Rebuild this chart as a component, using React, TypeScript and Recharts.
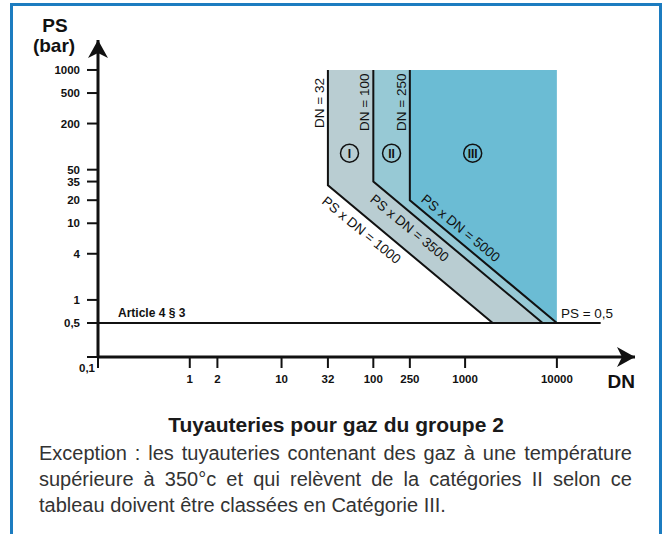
import { ComposedChart, Area, Line, XAxis, YAxis, ReferenceDot } from 'recharts';

// axis limits (log scales)
const DN_MIN = 0.1;
const DN_MAX = 71000;
const PS_MIN = 0.18;
const PS_MAX = 2460;

const dnTicks = [0.1, 1, 2, 10, 32, 100, 250, 1000, 10000];
const psTicks = [PS_MIN, 0.5, 1, 4, 10, 20, 35, 50, 200, 500, 1000];

// category zones: [low PS, high PS] for each DN
const zoneI = [
  { dn: 32, range: [31.25, 1000] },
  { dn: 100, range: [10, 1000] },
  { dn: 100, range: [10, 35] },
  { dn: 2000, range: [0.5, 1.75] },
  { dn: 7000, range: [0.5, 0.5] },
];
const zoneII = [
  { dn: 100, range: [35, 1000] },
  { dn: 250, range: [14, 1000] },
  { dn: 250, range: [14, 20] },
  { dn: 7000, range: [0.5, 0.714] },
  { dn: 10000, range: [0.5, 0.5] },
];
const zoneIII = [
  { dn: 250, range: [20, 1000] },
  { dn: 10000, range: [0.5, 1000] },
];

// boundary lines
const limit1000 = [
  { dn: 32, ps: 1000 },
  { dn: 32, ps: 31.25 },
  { dn: 2000, ps: 0.5 },
];
const limit3500 = [
  { dn: 100, ps: 1000 },
  { dn: 100, ps: 35 },
  { dn: 7000, ps: 0.5 },
];
const limit5000 = [
  { dn: 250, ps: 1000 },
  { dn: 250, ps: 20 },
  { dn: 10000, ps: 0.5 },
];
const article = [
  { dn: 0.1, ps: 0.5 },
  { dn: 30000, ps: 0.5 },
];

const FONT = "'Liberation Sans', Arial, sans-serif";
const INK = '#111';

const fr = (v: number) => String(v).replace('.', ',');

function PsTick({ x, y, payload }: any) {
  if (payload.value === PS_MIN) return null;
  return (
    <text x={x} y={y + 4} textAnchor="end" fontSize={11.5} fontWeight="bold" fontFamily={FONT} fill={INK}>
      {fr(payload.value)}
    </text>
  );
}

function DnTick({ x, y, payload }: any) {
  if (payload.value === DN_MIN) {
    return (
      <text x={x - 3} y={y - 2} textAnchor="end" fontSize={11.5} fontWeight="bold" fontFamily={FONT} fill={INK}>
        0,1
      </text>
    );
  }
  return (
    <text x={x} y={y + 9} textAnchor="middle" fontSize={11.5} fontWeight="bold" fontFamily={FONT} fill={INK}>
      {fr(payload.value)}
    </text>
  );
}

const vLabel = (text: string) => (p: any) => (
  <text x={p.cx - 4} y={p.cy} transform={`rotate(-90 ${p.cx - 4} ${p.cy})`} fontSize={13.5} fontFamily={FONT} fill={INK}>
    {text}
  </text>
);

const dLabel = (text: string) => (p: any) => (
  <text
    x={p.cx}
    y={p.cy}
    transform={`rotate(39.5 ${p.cx} ${p.cy})`}
    textAnchor="middle"
    dominantBaseline="central"
    fontSize={13.5}
    fontFamily={FONT}
    fill={INK}
  >
    {text}
  </text>
);

const roman = (text: string) => (p: any) => (
  <g>
    <circle cx={p.cx} cy={p.cy} r={9} fill="none" stroke={INK} strokeWidth={1.5} />
    <text x={p.cx} y={p.cy + 4.3} textAnchor="middle" fontSize={12} fontWeight="bold" fontFamily={FONT} fill={INK}>
      {text}
    </text>
  </g>
);

export default function App() {
  return (
    <div style={{ position: 'fixed', left: 0, top: 0, width: 669, height: 534, overflow: 'hidden', background: '#fff' }}>
      <div
        style={{
          position: 'absolute',
          left: 10,
          top: 3,
          width: 646,
          height: 600,
          border: '3px solid #1c7cc0',
        }}
      />
      <div style={{ position: 'absolute', left: 0, top: 0 }}>
        <ComposedChart width={669} height={400} margin={{ top: 40, right: 34, left: 0, bottom: 0 }}>
          <XAxis
            dataKey="dn"
            type="number"
            scale="log"
            domain={[DN_MIN, DN_MAX]}
            allowDataOverflow
            ticks={dnTicks}
            interval={0}
            height={43}
            tickSize={11}
            tickMargin={6}
            axisLine={{ stroke: INK, strokeWidth: 3 }}
            tickLine={{ stroke: INK, strokeWidth: 2 }}
            tick={<DnTick />}
          />
          <YAxis
            dataKey="ps"
            type="number"
            scale="log"
            domain={[PS_MIN, PS_MAX]}
            allowDataOverflow
            ticks={psTicks}
            interval={0}
            width={98}
            tickSize={11}
            tickMargin={7}
            axisLine={{ stroke: INK, strokeWidth: 3 }}
            tickLine={{ stroke: INK, strokeWidth: 2 }}
            tick={<PsTick />}
          />
          <Area data={zoneI} dataKey="range" type="linear" fill="#b9cdd2" fillOpacity={1} stroke="none" isAnimationActive={false} />
          <Area data={zoneII} dataKey="range" type="linear" fill="#97c9d5" fillOpacity={1} stroke="none" isAnimationActive={false} />
          <Area data={zoneIII} dataKey="range" type="linear" fill="#6bbcd4" fillOpacity={1} stroke="none" isAnimationActive={false} />
          <Line data={limit1000} dataKey="ps" type="linear" stroke={INK} strokeWidth={2} dot={false} activeDot={false} isAnimationActive={false} />
          <Line data={limit3500} dataKey="ps" type="linear" stroke={INK} strokeWidth={2} dot={false} activeDot={false} isAnimationActive={false} />
          <Line data={limit5000} dataKey="ps" type="linear" stroke={INK} strokeWidth={2} dot={false} activeDot={false} isAnimationActive={false} />
          <Line data={article} dataKey="ps" type="linear" stroke={INK} strokeWidth={2.2} dot={false} activeDot={false} isAnimationActive={false} />

          <ReferenceDot x={32} y={175} r={0} ifOverflow="visible" shape={vLabel('DN = 32')} />
          <ReferenceDot x={100} y={160} r={0} ifOverflow="visible" shape={vLabel('DN = 100')} />
          <ReferenceDot x={250} y={160} r={0} ifOverflow="visible" shape={vLabel('DN = 250')} />

          <ReferenceDot x={55} y={82} r={0} ifOverflow="visible" shape={roman('I')} />
          <ReferenceDot x={158} y={82} r={0} ifOverflow="visible" shape={roman('II')} />
          <ReferenceDot x={1210} y={82} r={0} ifOverflow="visible" shape={roman('III')} />

          <ReferenceDot x={74} y={8.1} r={0} ifOverflow="visible" shape={dLabel('PS x DN = 1000')} />
          <ReferenceDot x={248} y={8.6} r={0} ifOverflow="visible" shape={dLabel('PS x DN = 3500')} />
          <ReferenceDot x={896} y={8.6} r={0} ifOverflow="visible" shape={dLabel('PS x DN = 5000')} />

          <ReferenceDot
            x={0.1}
            y={0.5}
            r={0}
            ifOverflow="visible"
            shape={(p: any) => (
              <text x={p.cx + 20} y={p.cy - 5.5} fontSize={12} fontWeight="bold" fontFamily={FONT} fill={INK}>
                Article 4 § 3
              </text>
            )}
          />
          <ReferenceDot
            x={10000}
            y={0.5}
            r={0}
            ifOverflow="visible"
            shape={(p: any) => (
              <text x={p.cx + 4} y={p.cy - 5} fontSize={13.5} fontFamily={FONT} fill={INK}>
                PS = 0,5
              </text>
            )}
          />

          {/* arrow heads + axis titles */}
          <ReferenceDot
            x={DN_MIN}
            y={PS_MAX}
            r={0}
            ifOverflow="visible"
            shape={(p: any) => (
              <g>
                <path d={`M${p.cx},${p.cy} L${p.cx + 10},${p.cy + 18} L${p.cx},${p.cy + 13} L${p.cx - 10},${p.cy + 18} Z`} fill={INK} />
                <text x={p.cx - 43} y={p.cy - 8} textAnchor="middle" fontSize={19} fontWeight="bold" fontFamily={FONT} fill={INK}>
                  PS
                </text>
                <text x={p.cx - 44} y={p.cy + 12} textAnchor="middle" fontSize={19} fontWeight="bold" fontFamily={FONT} fill={INK}>
                  (bar)
                </text>
              </g>
            )}
          />
          <ReferenceDot
            x={DN_MAX}
            y={PS_MIN}
            r={0}
            ifOverflow="visible"
            shape={(p: any) => (
              <g>
                <path d={`M${p.cx},${p.cy} L${p.cx - 18},${p.cy - 10} L${p.cx - 13},${p.cy} L${p.cx - 18},${p.cy + 10} Z`} fill={INK} />
                <text x={p.cx} y={p.cy + 31} textAnchor="end" fontSize={19} fontWeight="bold" fontFamily={FONT} fill={INK}>
                  DN
                </text>
              </g>
            )}
          />
        </ComposedChart>
      </div>

      <div
        style={{
          position: 'absolute',
          left: 10,
          width: 652,
          top: 414,
          textAlign: 'center',
          fontFamily: FONT,
          fontWeight: 'bold',
          fontSize: 21,
          lineHeight: '21px',
          color: '#1a1a1a',
        }}
      >
        Tuyauteries pour gaz du groupe 2
      </div>
      <div
        style={{
          position: 'absolute',
          left: 39,
          width: 593,
          top: 440,
          textAlign: 'justify',
          fontFamily: FONT,
          fontSize: 20,
          lineHeight: '26px',
          color: '#333',
        }}
      >
        Exception : les tuyauteries contenant des gaz à une température supérieure à 350°c et qui relèvent de la
        catégories II selon ce tableau doivent être classées en Catégorie III.
      </div>
    </div>
  );
}
